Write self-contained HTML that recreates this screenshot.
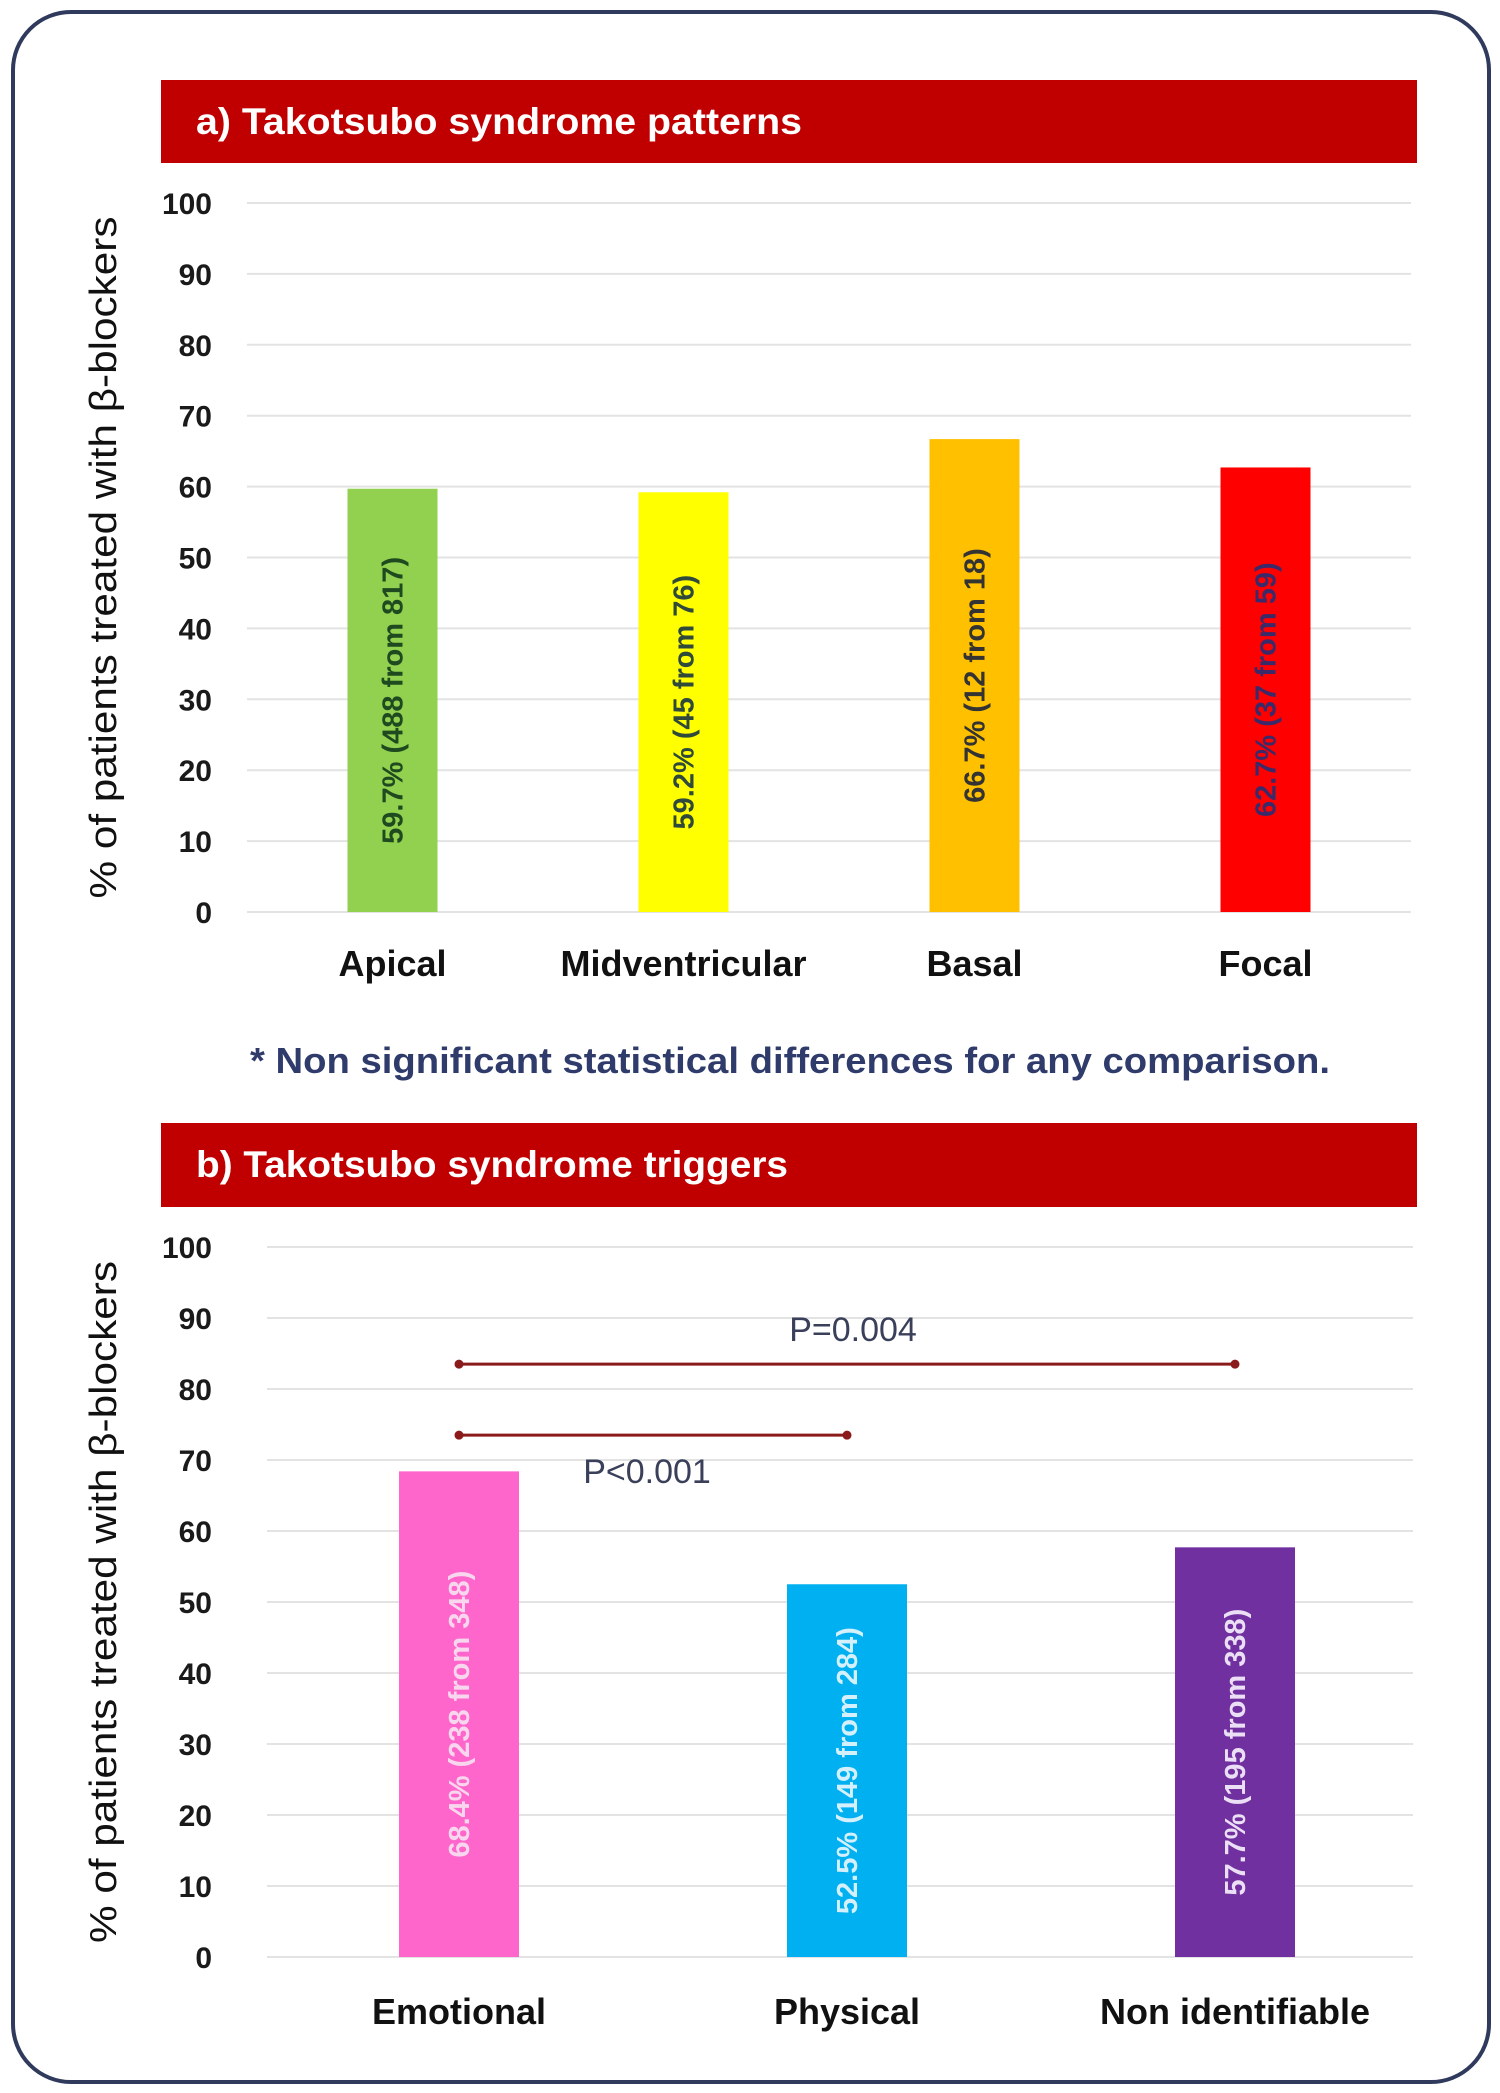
<!DOCTYPE html>
<html><head><meta charset="utf-8"><style>
html,body{margin:0;padding:0;background:#fff;}
svg{display:block;font-family:"Liberation Sans",sans-serif;}
</style></head><body>
<svg id="chart" width="1500" height="2093" viewBox="0 0 1500 2093">
<rect x="13" y="12" width="1476" height="2070" rx="58" fill="#fff" stroke="#2f3a5c" stroke-width="4"/>
<rect x="161" y="80" width="1256" height="83" fill="#c00000"/>
<text x="196" y="134" fill="#fff" font-size="37" font-weight="bold" textLength="606" lengthAdjust="spacingAndGlyphs">a)  Takotsubo syndrome patterns</text>
<text x="790" y="1073" fill="#2f3b6b" font-size="36" font-weight="bold" text-anchor="middle" textLength="1080" lengthAdjust="spacingAndGlyphs">* Non significant statistical differences for any comparison.</text>
<rect x="161" y="1123" width="1256" height="84" fill="#c00000"/>
<text x="196" y="1177" fill="#fff" font-size="37" font-weight="bold" textLength="592" lengthAdjust="spacingAndGlyphs">b)  Takotsubo syndrome triggers</text>
<g id="ga"></g><g id="gb"></g>
</svg>
<script>
const ticks = [0,10,20,30,40,50,60,70,80,90,100];
const catsA = ["Apical","Midventricular","Basal","Focal"];
const valsA = [59.7,59.2,66.7,62.7];
const labelsA = ["59.7% (488 from 817)","59.2% (45 from 76)","66.7% (12 from 18)","62.7% (37 from 59)"];
const catsB = ["Emotional","Physical","Non identifiable"];
const valsB = [68.4,52.5,57.7];
const labelsB = ["68.4% (238 from 348)","52.5% (149 from 284)","57.7% (195 from 338)"];
const pLabels = ["P=0.004","P<0.001"];
const NS="http://www.w3.org/2000/svg";
function mk(parent,tag,attrs,text){const e=document.createElementNS(NS,tag);for(const k in attrs)e.setAttribute(k,attrs[k]);if(text!==undefined)e.textContent=text;parent.appendChild(e);return e;}
function panel(g,cfg,cats,vals,labels,colors,lcolors,prefix){
  const y=v=>cfg.y0-(cfg.y0-cfg.y100)*v/100;
  const step=(cfg.x1-cfg.x0)/cats.length;
  const xc=i=>cfg.x0+step*(i+0.5);
  ticks.forEach(t=>{
    const l=mk(g,"line",{x1:cfg.gx0,x2:cfg.gx1,y1:y(t),y2:y(t),stroke:"#e3e3e3","stroke-width":2});
    
    
    const tx=mk(g,"text",{x:cfg.tx,y:y(t)+11,"text-anchor":"end","font-size":30,"font-weight":"bold",fill:"#1a1a1a"},String(t));
    
    
  });
  const yt=mk(g,"text",{x:0,y:0,"font-size":38,fill:"#111","text-anchor":"middle",textLength:682,lengthAdjust:"spacingAndGlyphs",transform:`translate(${cfg.ytx},${(cfg.y0+cfg.y100)/2}) rotate(-90)`},"% of patients treated with β-blockers");
  
  
  cats.forEach((c,i)=>{
    const r=mk(g,"rect",{x:xc(i)-cfg.bw/2,y:y(vals[i]),width:cfg.bw,height:y(0)-y(vals[i]),fill:colors[i]});
    
    
    const my=(y(0)+y(vals[i]))/2;
    const bl=mk(g,"text",{x:0,y:0,"font-size":29,"font-weight":"bold",fill:lcolors[i],"text-anchor":"middle",transform:`translate(${xc(i)+10},${my}) rotate(-90)`},labels[i]);
    
    
    const cl=mk(g,"text",{x:xc(i),y:cfg.cy,"font-size":36,"font-weight":"bold",fill:"#111","text-anchor":"middle"},c);
    
    
  });
  return {y,xc};
}
panel(document.getElementById('ga'),{x0:247,x1:1411,gx0:247,gx1:1411,y0:912,y100:203,tx:212,ytx:116,bw:90,cy:976},
  catsA,valsA,labelsA,["#92d050","#ffff00","#ffc000","#ff0000"],["#1f4a1f","#2f4a3a","#333333","#3a2a6a"],"a");
const pb=panel(document.getElementById('gb'),{x0:265,x1:1429,gx0:267,gx1:1413,y0:1957,y100:1247,tx:212,ytx:116,bw:120,cy:2024},
  catsB,valsB,labelsB,["#ff66cc","#00b0f0","#7030a0"],["#f8d6ee","#d4f0fd","#ebdff5"],"b");
const gb=document.getElementById('gb');
const brackets=[[0,2,83.5,0],[0,1,73.5,1]];
brackets.forEach(b=>{
  const x1=pb.xc(b[0]),x2=pb.xc(b[1]),yy=pb.y(b[2]);
  const l=mk(gb,"line",{x1:x1,x2:x2,y1:yy,y2:yy,stroke:"#8b1a1a","stroke-width":3});
  
  
  [x1,x2].forEach(x=>{const d=mk(gb,"circle",{cx:x,cy:yy,r:4.5,fill:"#8b1a1a"});
    
    });
});
const p1=mk(gb,"text",{x:853,y:1341,"font-size":34,fill:"#3a3f5a","text-anchor":"middle"},pLabels[0]);


const p2=mk(gb,"text",{x:647,y:1483,"font-size":34,fill:"#3a3f5a","text-anchor":"middle"},pLabels[1]);


</script>
</body></html>
